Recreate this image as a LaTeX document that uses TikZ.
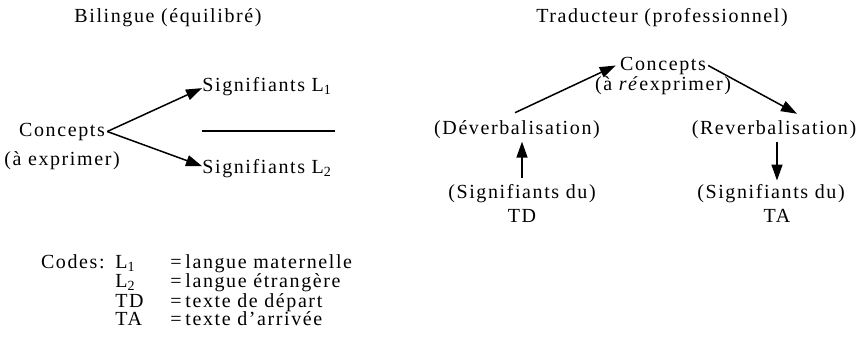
\documentclass[tikz,border=0pt]{standalone}
\usepackage{fontspec}
\setmainfont[LetterSpace=8]{Liberation Serif}
\usetikzlibrary{arrows.meta,calc}
\begin{document}
\begin{tikzpicture}[x=0.5pt,y=-0.5pt,
  lbl/.style={inner sep=0pt,anchor=base,font=\fontsize{10}{12}\selectfont},
  lblw/.style={lbl,anchor=base west},
  lble/.style={lbl,anchor=base east},
  arr/.style={line width=0.75pt,-{Triangle[length=8pt,width=5.5pt]}},
  plain/.style={line width=0.6pt}]
\useasboundingbox (0,0) rectangle (859,355);
% titles
\node[lbl] (tB) at (168,22) {Bilingue (équilibré)};
\node[lbl] (tT) at (662,22) {Traducteur (professionnel)};
% left diagram
\node[lbl] (concL) at (62,136) {Concepts};
\node[lbl] (exprL) at (62,165) {(à exprimer)};
\node[lblw] (sig1) at (202,91) {Signifiants L\textsubscript{1}};
\node[lblw] (sig2) at (202,173) {Signifiants L\textsubscript{2}};
\coordinate (la) at (202,131);
\coordinate (lb) at (335,131);
\draw[plain] (la) -- (lb);
\draw[arr] ([xshift=1pt]concL.east) -- ([yshift=-1pt]sig1.west);
\draw[arr] ([xshift=1pt]concL.east) -- ([yshift=1pt]sig2.west);
% right diagram
\node[lbl] (concR) at (663,70) {Concepts};
\node[lbl] (exprR) at (663,90) {(à \textit{ré}exprimer)};
\node[lbl] (dev) at (517,134) {(Déverbalisation)};
\node[lbl] (rev) at (774,134) {(Reverbalisation)};
\node[lbl] (sTD) at (522,198) {(Signifiants du)};
\node[lbl] (TD) at (522,222) {TD};
\node[lbl] (sTA) at (771,198) {(Signifiants du)};
\node[lbl] (TA) at (777,222) {TA};
\draw[arr] ($(dev.north)+(-2,-7)$) -- ([xshift=-2pt]concR.west);
\draw[arr] ([xshift=1pt]concR.east) -- ($(rev.north)+(23,-6)$);
\draw[arr] ($(sTD.north)+(0,-6)$) -- ($(sTD.north |- dev.south)+(0,3)$);
\draw[arr] ($(rev.south)+(3,3)$) -- ($(rev.south |- sTA.north)+(3,-3)$);
% codes
\node[lble] (codes) at (105,268) {Codes:};
\node[lblw] (c1) at (115,268) {L\textsubscript{1}};
\node[lblw] (c2) at (115,287) {L\textsubscript{2}};
\node[lblw] (c3) at (115,307) {TD};
\node[lblw] (c4) at (115,325) {TA};
\node[lblw] (e1) at (170,268) {=};
\node[lblw] (e2) at (170,287) {=};
\node[lblw] (e3) at (170,307) {=};
\node[lblw] (e4) at (170,325) {=};
\node[lblw] (d1) at (185,268) {langue maternelle};
\node[lblw] (d2) at (185,287) {langue étrangère};
\node[lblw] (d3) at (185,307) {texte de départ};
\node[lblw] (d4) at (185,325) {texte d'arrivée};
\end{tikzpicture}
\end{document}
